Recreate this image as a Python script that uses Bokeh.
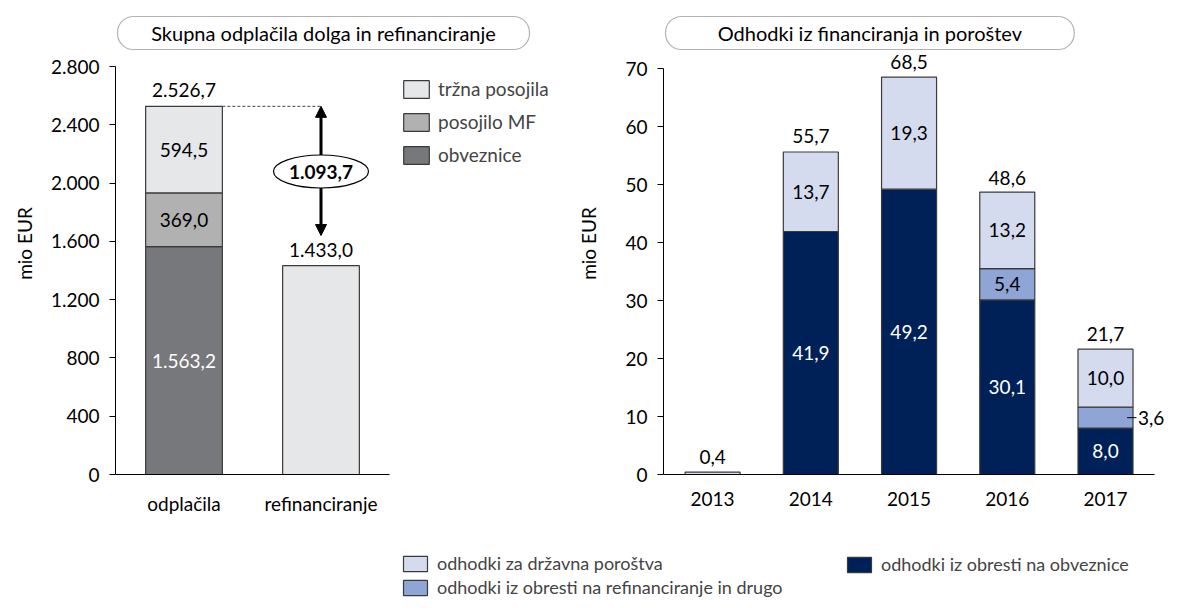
import numpy as np
from bokeh.plotting import figure
from bokeh.models import (ColumnDataSource, Range1d, FixedTicker, Legend, LegendItem,
                          BoxAnnotation, Label, Arrow, NormalHead)
from bokeh.layouts import column, row
from bokeh.embed import file_html
from bokeh.resources import INLINE
from bokeh.core.properties import value

# ---------------- data ----------------
left_title = "Skupna odplačila dolga in refinanciranje"
left_categories = ["odplačila", "refinanciranje"]
left_series = ["obveznice", "posojilo MF", "tržna posojila"]
obveznice = [1563.2, 0.0]
posojilo_mf = [369.0, 0.0]
trzna_posojila = [594.5, 1433.0]
left_totals = [2526.7, 1433.0]
left_ticks = [0, 400, 800, 1200, 1600, 2000, 2400, 2800]

right_title = "Odhodki iz financiranja in poroštev"
right_categories = ["2013", "2014", "2015", "2016", "2017"]
right_series = ["odhodki iz obresti na obveznice",
                "odhodki iz obresti na refinanciranje in drugo",
                "odhodki za državna poroštva"]
obresti_obveznice = [0.0, 41.9, 49.2, 30.1, 8.0]
obresti_refin = [0.0, 0.0, 0.0, 5.4, 3.6]
porostva = [0.4, 13.7, 19.3, 13.2, 10.0]
right_totals = [0.4, 55.7, 68.5, 48.6, 21.7]
right_ticks = [0, 10, 20, 30, 40, 50, 60, 70]
y_label = "mio EUR"

# ---------------- style ----------------
FONT = "Lato"
FS = "19px"
FS_TITLE = "20px"
OUTLINE = "#3a3a3a"
LEFT_COLORS = ["#77787b", "#b1b1b1", "#e6e7e8"]
RIGHT_COLORS = ["#002157", "#8ea5d5", "#d5dbef"]
BAR_W = 0.56


def si(v, dec=1):
    s = f"{v:,.{dec}f}"
    return s.replace(",", "X").replace(".", ",").replace("X", ".")


# ---------------- layout constants (canvas px) ----------------
TOTAL_W = 1168
SPLIT = 574
TOP_H = 552
BOT_H = 46
FRAME_TOP = 12
FRAME_BOT = 474
L_AX = 115
L_CAT = 137.0
L_PPU = 408 / 2800
R_AX = 659
R_CAT = 99.0
R_PPU = 406 / 70


def lx(px):
    return (px - L_AX) / L_CAT


def ly(px):
    return (FRAME_BOT - px) / L_PPU


def rx(px):
    return (px - R_AX) / R_CAT


def ry(px):
    return (FRAME_BOT - px) / R_PPU


def style_axes(p, yticks, xcats, ybound, fmt):
    p.xgrid.visible = False
    p.ygrid.visible = False
    p.outline_line_color = None
    for ax in (p.xaxis[0], p.yaxis[0]):
        ax.axis_line_color = "black"
        ax.axis_line_width = 1
        ax.major_tick_in = 0
        ax.minor_tick_in = 0
        ax.minor_tick_out = 0
        ax.major_label_text_font = FONT
        ax.major_label_text_font_size = FS
        ax.major_label_text_color = "black"
        ax.major_tick_line_color = "black"
    xa = p.xaxis[0]
    xa.ticker = FixedTicker(ticks=[i + 0.5 for i in range(len(xcats))])
    xa.major_label_overrides = {i + 0.5: c for i, c in enumerate(xcats)}
    xa.major_tick_out = 0
    xa.major_label_standoff = 17
    xa.bounds = (0, len(xcats))
    ya = p.yaxis[0]
    ya.ticker = FixedTicker(ticks=yticks)
    ya.major_label_overrides = {t: fmt(t) for t in yticks}
    ya.major_tick_out = 6
    ya.major_label_standoff = 10
    ya.bounds = ybound
    ya.axis_label = y_label
    ya.axis_label_text_font = FONT
    ya.axis_label_text_font_size = FS
    ya.axis_label_text_font_style = "normal"
    ya.axis_label_text_color = "black"


# ================= LEFT CHART =================
lw = SPLIT
p1 = figure(width=lw, height=TOP_H, output_backend="svg", toolbar_location=None,
            x_range=Range1d(0, (lw - L_AX) / L_CAT),
            y_range=Range1d(0, (FRAME_BOT - FRAME_TOP) / L_PPU),
            min_border_left=L_AX, min_border_right=0,
            min_border_top=FRAME_TOP, min_border_bottom=TOP_H - FRAME_BOT)
style_axes(p1, left_ticks, left_categories, (0, left_ticks[-1]), lambda t: si(t, 0))
p1.yaxis[0].axis_label_standoff = 12

lsrc = ColumnDataSource(dict(x=[i + 0.5 for i in range(len(left_categories))],
                             obv=obveznice, mf=posojilo_mf, trz=trzna_posojila))
lr = p1.vbar_stack(["obv", "mf", "trz"], x="x", width=BAR_W, source=lsrc,
                   fill_color=LEFT_COLORS, line_color=OUTLINE, line_width=1.2)

# segment labels (only the repayment bar)
seg_vals = [obveznice[0], posojilo_mf[0], trzna_posojila[0]]
bases = np.concatenate([[0], np.cumsum(seg_vals)[:-1]])
mids = bases + np.array(seg_vals) / 2
p1.text(x=[0.5] * 3, y=list(mids), text=[si(v) for v in seg_vals],
        text_color=["white", "black", "black"], text_font=value(FONT), text_font_size=FS,
        text_align="center", text_baseline="middle")
# totals
p1.text(x=[i + 0.5 for i in range(len(left_totals))],
        y=[t + 16 / L_PPU for t in left_totals], text=[si(t) for t in left_totals],
        text_color="black", text_font=value(FONT), text_font_size=FS,
        text_align="center", text_baseline="middle")

# difference arrow
diff = left_totals[0] - left_totals[1]
p1.line(x=[0.5 + BAR_W / 2, 1.5], y=[left_totals[0], left_totals[0]],
        line_color="#444444", line_width=1, line_dash="3 2")
p1.add_layout(Arrow(x_start=1.5, y_start=ly(235), x_end=1.5, y_end=left_totals[0],
                    line_width=3, line_color="black",
                    start=NormalHead(size=11, fill_color="black", line_color="black"),
                    end=NormalHead(size=11, fill_color="black", line_color="black")))
e = p1.ellipse(x=[1.5], y=[ly(171)], width=95, height=33, width_units="screen",
               height_units="screen", fill_color="white", line_color="black", line_width=1.2)
e.level = "overlay"
t = p1.text(x=[1.5], y=[ly(171)], text=[si(diff)], text_font=value(FONT), text_font_size=FS,
            text_font_style="bold", text_align="center", text_baseline="middle",
            text_color="black")
t.level = "overlay"

# title box
p1.add_layout(BoxAnnotation(left=lx(117), right=lx(529), top=ly(16), bottom=ly(49),
                            fill_color="white", fill_alpha=1, line_color="black",
                            line_width=1.2, border_radius=16))
p1.add_layout(Label(x=(lx(117) + lx(529)) / 2, y=(ly(16) + ly(49)) / 2, text=left_title,
                    text_align="center", text_baseline="middle", text_font=FONT,
                    text_font_size=FS_TITLE, text_color="black"))

leg1 = Legend(items=[LegendItem(label=left_series[i], renderers=[lr[i]]) for i in (2, 1, 0)],
              location=(400 - L_AX, FRAME_BOT - 166), glyph_width=32, glyph_height=22,
              label_height=22, spacing=10, label_standoff=6, padding=0, margin=0,
              border_line_color=None, background_fill_alpha=0,
              label_text_font=FONT, label_text_font_size=FS)
p1.add_layout(leg1)

# ================= RIGHT CHART =================
rw = TOTAL_W - SPLIT
p2 = figure(width=rw, height=TOP_H, output_backend="svg", toolbar_location=None,
            x_range=Range1d(0, (rw - (R_AX - SPLIT)) / R_CAT),
            y_range=Range1d(0, (FRAME_BOT - FRAME_TOP) / R_PPU),
            min_border_left=R_AX - SPLIT, min_border_right=0,
            min_border_top=FRAME_TOP, min_border_bottom=TOP_H - FRAME_BOT)
style_axes(p2, right_ticks, right_categories, (0, right_ticks[-1]), lambda t: str(t))
p2.yaxis[0].axis_label_standoff = 22

rxs = [i + 0.5 for i in range(len(right_categories))]
rsrc = ColumnDataSource(dict(x=rxs, obv=obresti_obveznice, ref=obresti_refin, por=porostva))
rr = p2.vbar_stack(["obv", "ref", "por"], x="x", width=BAR_W, source=rsrc,
                   fill_color=RIGHT_COLORS, line_color=OUTLINE, line_width=1.2)

ob = np.array(obresti_obveznice)
rf = np.array(obresti_refin)
po = np.array(porostva)
lab_x, lab_y, lab_t, lab_c = [], [], [], []
for i in range(len(right_categories)):
    if ob[i] > 0:
        lab_x.append(rxs[i]); lab_y.append(ob[i] / 2); lab_t.append(si(ob[i])); lab_c.append("white")
    if rf[i] > 4:
        lab_x.append(rxs[i]); lab_y.append(ob[i] + rf[i] / 2); lab_t.append(si(rf[i])); lab_c.append("black")
    if po[i] > 1:
        lab_x.append(rxs[i]); lab_y.append(ob[i] + rf[i] + po[i] / 2); lab_t.append(si(po[i])); lab_c.append("black")
p2.text(x=lab_x, y=lab_y, text=lab_t, text_color=lab_c, text_font=value(FONT),
        text_font_size=FS, text_align="center", text_baseline="middle")
p2.text(x=rxs, y=[t + 15 / R_PPU for t in right_totals], text=[si(t) for t in right_totals],
        text_color="black", text_font=value(FONT), text_font_size=FS,
        text_align="center", text_baseline="middle")

# small refinancing value outside the last bar
k = len(right_categories) - 1
ymid = ob[k] + rf[k] / 2
edge = rxs[k] + BAR_W / 2
p2.line(x=[edge - 0.06, edge + 0.035], y=[ymid, ymid], line_color="black", line_width=1)
p2.text(x=[edge + 0.05], y=[ymid], text=[si(rf[k])], text_color="black",
        text_font=value(FONT), text_font_size=FS, text_align="left", text_baseline="middle")

p2.add_layout(BoxAnnotation(left=rx(661), right=rx(1073), top=ry(16), bottom=ry(49),
                            fill_color="white", fill_alpha=1, line_color="black",
                            line_width=1.2, border_radius=16))
p2.add_layout(Label(x=(rx(661) + rx(1073)) / 2, y=(ry(16) + ry(49)) / 2, text=right_title,
                    text_align="center", text_baseline="middle", text_font=FONT,
                    text_font_size=FS_TITLE, text_color="black"))

# ================= BOTTOM LEGEND =================
p3 = figure(width=TOTAL_W, height=BOT_H, output_backend="svg", toolbar_location=None,
            x_range=Range1d(0, 1), y_range=Range1d(0, 1), min_border=0,
            x_axis_type=None, y_axis_type=None)
p3.grid.visible = False
p3.outline_line_color = None
dummy = [p3.vbar(x=[-10], top=[0], width=0.1, fill_color=c, line_color=OUTLINE, line_width=1.2)
         for c in RIGHT_COLORS]
common = dict(glyph_width=30, glyph_height=19, label_height=19, spacing=2, label_standoff=7,
              padding=0, margin=0, border_line_color=None, background_fill_alpha=0,
              label_text_font=FONT, label_text_font_size="18px", label_text_line_height=1.0)
legA = Legend(items=[LegendItem(label=right_series[2], renderers=[dummy[2]]),
                     LegendItem(label=right_series[1], renderers=[dummy[1]])],
              location=(400, 0), **common)
legB = Legend(items=[LegendItem(label=right_series[0], renderers=[dummy[0]])],
              location=(844, 23), **common)
p3.add_layout(legA)
p3.add_layout(legB)

layout = column(row(p1, p2), p3)
open("out.html", "w").write(file_html(layout, INLINE))
